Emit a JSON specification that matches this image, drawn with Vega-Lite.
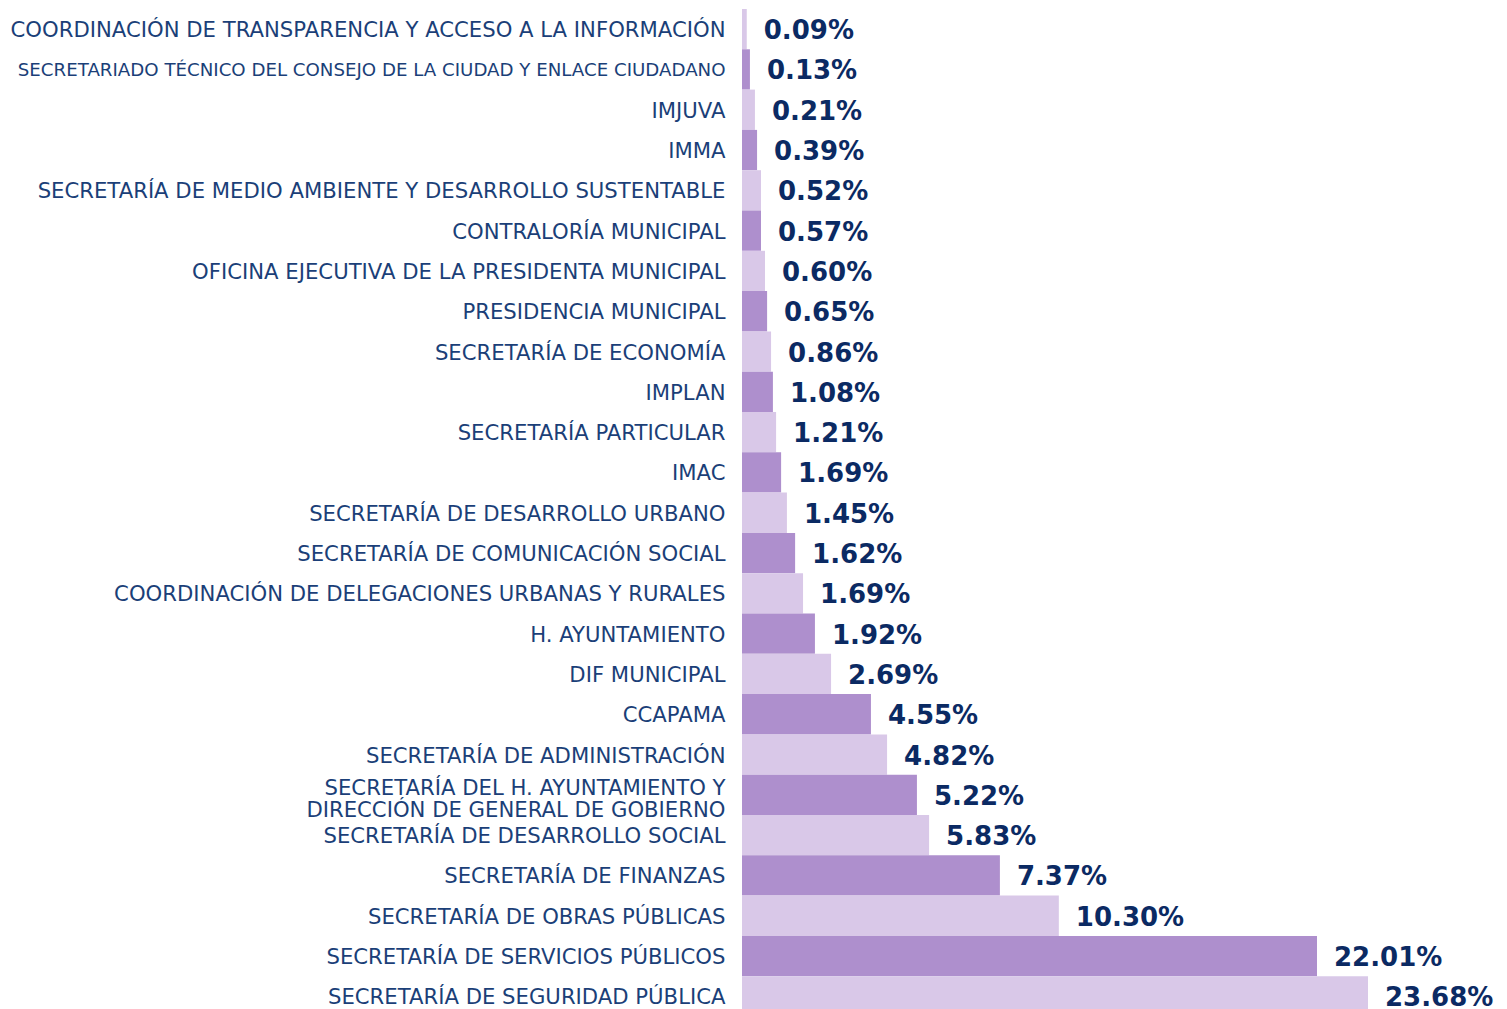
{
  "$schema": "https://vega.github.io/schema/vega-lite/v6.json",
  "autosize": {"type": "none"},
  "padding": {"left": 742, "top": 9, "right": 139, "bottom": 0},
  "width": 626,
  "height": 1007.5,
  "background": "white",
  "config": {"view": {"stroke": null}},
  "data": {
    "values": [
      {"name": "COORDINACIÓN DE TRANSPARENCIA Y ACCESO A LA INFORMACIÓN", "bar": 0.18, "pct": 0.09},
      {"name": "SECRETARIADO TÉCNICO DEL CONSEJO DE LA CIUDAD Y ENLACE CIUDADANO", "bar": 0.30, "pct": 0.13},
      {"name": "IMJUVA", "bar": 0.49, "pct": 0.21},
      {"name": "IMMA", "bar": 0.57, "pct": 0.39},
      {"name": "SECRETARÍA DE MEDIO AMBIENTE Y DESARROLLO SUSTENTABLE", "bar": 0.72, "pct": 0.52},
      {"name": "CONTRALORÍA MUNICIPAL", "bar": 0.72, "pct": 0.57},
      {"name": "OFICINA EJECUTIVA DE LA PRESIDENTA MUNICIPAL", "bar": 0.87, "pct": 0.60},
      {"name": "PRESIDENCIA MUNICIPAL", "bar": 0.95, "pct": 0.65},
      {"name": "SECRETARÍA DE ECONOMÍA", "bar": 1.10, "pct": 0.86},
      {"name": "IMPLAN", "bar": 1.17, "pct": 1.08},
      {"name": "SECRETARÍA PARTICULAR", "bar": 1.29, "pct": 1.21},
      {"name": "IMAC", "bar": 1.48, "pct": 1.69},
      {"name": "SECRETARÍA DE DESARROLLO URBANO", "bar": 1.70, "pct": 1.45},
      {"name": "SECRETARÍA DE COMUNICACIÓN SOCIAL", "bar": 2.01, "pct": 1.62},
      {"name": "COORDINACIÓN DE DELEGACIONES URBANAS Y RURALES", "bar": 2.31, "pct": 1.69},
      {"name": "H. AYUNTAMIENTO", "bar": 2.76, "pct": 1.92},
      {"name": "DIF MUNICIPAL", "bar": 3.37, "pct": 2.69},
      {"name": "CCAPAMA", "bar": 4.88, "pct": 4.55},
      {"name": "SECRETARÍA DE ADMINISTRACIÓN", "bar": 5.49, "pct": 4.82},
      {"name": "SECRETARÍA DEL H. AYUNTAMIENTO Y\nDIRECCIÓN DE GENERAL DE GOBIERNO", "bar": 6.62, "pct": 5.22},
      {"name": "SECRETARÍA DE DESARROLLO SOCIAL", "bar": 7.08, "pct": 5.83},
      {"name": "SECRETARÍA DE FINANZAS", "bar": 9.76, "pct": 7.37},
      {"name": "SECRETARÍA DE OBRAS PÚBLICAS", "bar": 11.99, "pct": 10.30},
      {"name": "SECRETARÍA DE SERVICIOS PÚBLICOS", "bar": 21.76, "pct": 22.01},
      {"name": "SECRETARÍA DE SEGURIDAD PÚBLICA", "bar": 23.69, "pct": 23.68}
    ]
  },
  "transform": [
    {"window": [{"op": "row_number", "as": "rn"}]},
    {"calculate": "format(datum.pct, '.2f') + '%'", "as": "txt"}
  ],
  "encoding": {
    "y": {
      "field": "name",
      "type": "nominal",
      "sort": null,
      "scale": {"paddingInner": 0, "paddingOuter": 0},
      "axis": {
        "title": null,
        "domain": false,
        "ticks": false,
        "labelPadding": 17,
        "labelLimit": 1000,
        "labelFont": "DejaVu Sans",
        "labelFontSize": {"condition": {"test": "indexof(datum.value, 'SECRETARIADO') == 0", "value": 18.2}, "value": 21.2},
        "labelOffset": {"condition": {"test": "indexof(datum.value, 'SECRETARÍA DEL H.') == 0", "value": -6}, "value": 2},
        "labelColor": "#1b3f78",
        "labelLineHeight": 22,
        "labelExpr": "split(datum.label, '\\n')"
      }
    }
  },
  "layer": [
    {
      "mark": {"type": "bar"},
      "encoding": {
        "x": {"field": "bar", "type": "quantitative", "scale": {"domain": [0, 23.69], "nice": false}, "axis": null},
        "color": {"condition": {"test": "datum.rn % 2 == 1", "value": "#d9c8e8"}, "value": "#ae8fcd"}
      }
    },
    {
      "mark": {"type": "text", "align": "left", "baseline": "middle", "dx": 17, "dy": 2, "font": "DejaVu Sans", "fontWeight": "bold", "fontSize": 26, "color": "#0b2a63"},
      "encoding": {
        "x": {"field": "bar", "type": "quantitative"},
        "text": {"field": "txt"}
      }
    }
  ]
}
